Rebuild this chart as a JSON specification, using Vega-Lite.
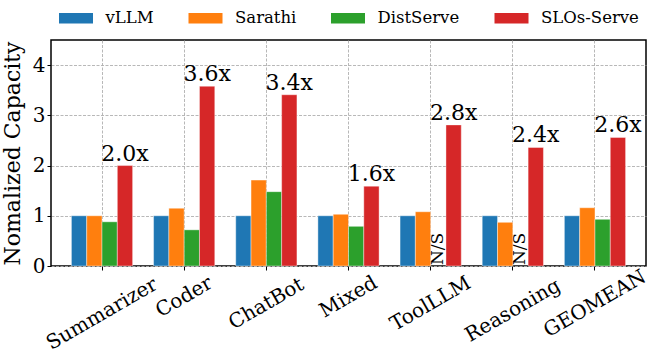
{
  "$schema": "https://vega.github.io/schema/vega-lite/v6.json",
  "width": 595,
  "height": 226,
  "autosize": "none",
  "padding": {"left": 51, "top": 40, "right": 13, "bottom": 98},
  "background": "white",
  "config": {
    "view": {"stroke": "black", "strokeWidth": 1.5},
    "axis": {
      "labelFont": "DejaVu Serif",
      "titleFont": "DejaVu Serif",
      "labelColor": "black",
      "titleColor": "black",
      "tickColor": "black",
      "domain": false,
      "gridColor": "#b0b0b0",
      "gridDash": [3, 1.5],
      "gridWidth": 0.9
    }
  },
  "data": {
    "values": [
      {"workload": "Summarizer", "system": "vLLM", "value": 1.0},
      {"workload": "Summarizer", "system": "Sarathi", "value": 1.0},
      {"workload": "Summarizer", "system": "DistServe", "value": 0.88},
      {"workload": "Summarizer", "system": "SLOs-Serve", "value": 2.0, "annot": "2.0x"},
      {"workload": "Coder", "system": "vLLM", "value": 1.0},
      {"workload": "Coder", "system": "Sarathi", "value": 1.15},
      {"workload": "Coder", "system": "DistServe", "value": 0.72},
      {"workload": "Coder", "system": "SLOs-Serve", "value": 3.58, "annot": "3.6x"},
      {"workload": "ChatBot", "system": "vLLM", "value": 1.0},
      {"workload": "ChatBot", "system": "Sarathi", "value": 1.71},
      {"workload": "ChatBot", "system": "DistServe", "value": 1.48},
      {"workload": "ChatBot", "system": "SLOs-Serve", "value": 3.41, "annot": "3.4x"},
      {"workload": "Mixed", "system": "vLLM", "value": 1.0},
      {"workload": "Mixed", "system": "Sarathi", "value": 1.03},
      {"workload": "Mixed", "system": "DistServe", "value": 0.79},
      {"workload": "Mixed", "system": "SLOs-Serve", "value": 1.59, "annot": "1.6x"},
      {"workload": "ToolLLM", "system": "vLLM", "value": 1.0},
      {"workload": "ToolLLM", "system": "Sarathi", "value": 1.08},
      {"workload": "ToolLLM", "system": "DistServe", "value": null, "annot": "N/S"},
      {"workload": "ToolLLM", "system": "SLOs-Serve", "value": 2.81, "annot": "2.8x"},
      {"workload": "Reasoning", "system": "vLLM", "value": 1.0},
      {"workload": "Reasoning", "system": "Sarathi", "value": 0.87},
      {"workload": "Reasoning", "system": "DistServe", "value": null, "annot": "N/S"},
      {"workload": "Reasoning", "system": "SLOs-Serve", "value": 2.36, "annot": "2.4x"},
      {"workload": "GEOMEAN", "system": "vLLM", "value": 1.0},
      {"workload": "GEOMEAN", "system": "Sarathi", "value": 1.16},
      {"workload": "GEOMEAN", "system": "DistServe", "value": 0.93},
      {"workload": "GEOMEAN", "system": "SLOs-Serve", "value": 2.56, "annot": "2.6x"}
    ]
  },
  "encoding": {
    "x": {
      "field": "workload",
      "type": "nominal",
      "sort": null,
      "scale": {"paddingInner": 0.255, "paddingOuter": 0.2485},
      "axis": {
        "title": null,
        "bandPosition": 0.5,
        "grid": true,
        "tickSize": 4,
        "labels": false
      }
    }
  },
  "layer": [
    {
      "mark": {"type": "bar", "stroke": "white", "strokeWidth": 0.8, "strokeOpacity": 0.5},
      "encoding": {
        "xOffset": {
          "field": "system",
          "type": "nominal",
          "scale": {"domain": ["vLLM", "Sarathi", "DistServe", "SLOs-Serve"], "paddingInner": 0, "paddingOuter": 0}
        },
        "y": {
          "field": "value",
          "type": "quantitative",
          "scale": {"domain": [0, 4.5], "nice": false},
          "axis": {
            "title": "Nomalized Capacity",
            "titleFontSize": 22,
            "titleFontWeight": "normal",
            "titlePadding": 8,
            "values": [0, 1, 2, 3, 4],
            "tickSize": 4,
            "labelPadding": 2,
            "labelFontSize": 20,
            "grid": true
          }
        },
        "color": {
          "field": "system",
          "type": "nominal",
          "scale": {
            "domain": ["vLLM", "Sarathi", "DistServe", "SLOs-Serve"],
            "range": ["#1f77b4", "#ff7f0e", "#2ca02c", "#d62728"]
          },
          "legend": {
            "title": null,
            "orient": "none",
            "direction": "horizontal",
            "legendX": 8,
            "legendY": -39,
            "padding": 0,
            "symbolType": "M-1,-0.31H1V0.31H-1Z",
            "symbolSize": 1156,
            "symbolStrokeWidth": 0,
            "symbolOpacity": 1,
            "labelFont": "DejaVu Serif",
            "labelFontSize": 16.5,
            "labelFontWeight": "normal",
            "labelColor": "black",
            "labelOffset": 12.5,
            "columnPadding": 34.5
          }
        }
      }
    },
    {
      "transform": [{"filter": "datum.system === 'SLOs-Serve'"}],
      "mark": {"type": "text", "fontSize": 22, "font": "DejaVu Serif", "baseline": "alphabetic", "align": "center", "dy": -5, "color": "black"},
      "encoding": {
        "xOffset": {"field": "system", "type": "nominal"},
        "y": {"field": "value", "type": "quantitative"},
        "text": {"field": "annot"}
      }
    },
    {
      "transform": [{"filter": "datum.annot === 'N/S'"}],
      "mark": {"type": "text", "fontSize": 17, "font": "DejaVu Serif", "angle": 270, "align": "left", "baseline": "middle", "dx": 1, "color": "black"},
      "encoding": {
        "xOffset": {"field": "system", "type": "nominal"},
        "y": {"datum": 0, "type": "quantitative"},
        "text": {"field": "annot"}
      }
    },
    {
      "transform": [{"filter": "datum.system === 'SLOs-Serve'"}],
      "mark": {
        "type": "text",
        "fontSize": 20,
        "font": "DejaVu Serif",
        "angle": -30,
        "align": "center",
        "baseline": "middle",
        "color": "black",
        "dx": {"expr": "-0.5*(14+3.4*length(datum.workload))"},
        "dy": {"expr": "0.866*(14+3.4*length(datum.workload))"}
      },
      "encoding": {
        "y": {"datum": 0, "type": "quantitative"},
        "text": {"field": "workload"}
      }
    }
  ]
}
